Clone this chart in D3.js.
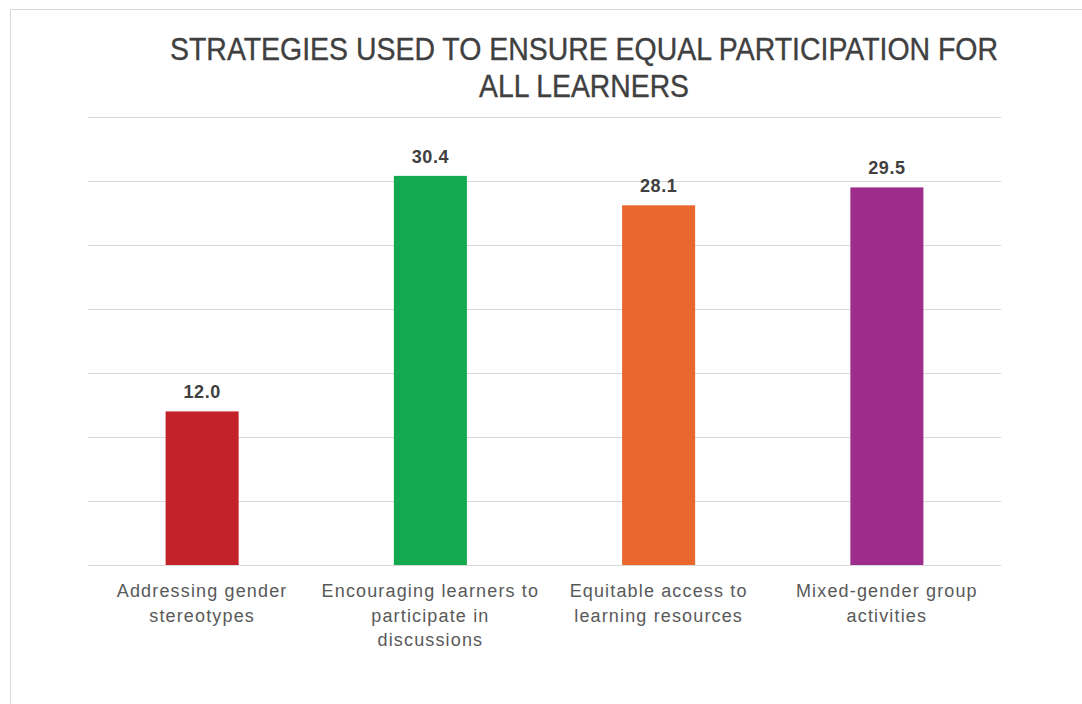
<!DOCTYPE html>
<html>
<head>
<meta charset="utf-8">
<script src="https://cdn.jsdelivr.net/npm/d3@7/dist/d3.min.js"></script>
<style>
  html, body { margin: 0; padding: 0; background: #fff; }
  svg { display: block; }
</style>
</head>
<body>
<svg id="chart" width="1082" height="704"></svg>
<script>
// Chart data
const categories = [
  "Addressing gender stereotypes",
  "Encouraging learners to participate in discussions",
  "Equitable access to learning resources",
  "Mixed-gender group activities"
];
const categoryLines = [
  ["Addressing gender", "stereotypes"],
  ["Encouraging learners to", "participate in", "discussions"],
  ["Equitable access to", "learning resources"],
  ["Mixed-gender group", "activities"]
];
const values = [12.0, 30.4, 28.1, 29.5];
const barColors = ["#C3222A", "#13A94F", "#EA672E", "#9D2C8B"];
const yTicks = [0, 5, 10, 15, 20, 25, 30, 35];
const titleLines = ["STRATEGIES USED TO ENSURE EQUAL PARTICIPATION FOR", "ALL LEARNERS"];

const svg = d3.select("#chart");

// Outer chart frame
svg.append("rect")
  .attr("x", 10.5).attr("y", 9.5)
  .attr("width", 1100).attr("height", 720)
  .attr("fill", "#fff")
  .attr("stroke", "#d9d9d9").attr("stroke-width", 1);

const plot = { left: 88, right: 1001, top: 117, bottom: 565 };

const x = d3.scaleBand()
  .domain(categories)
  .range([plot.left, plot.right])
  .paddingInner(0.68)
  .paddingOuter(0.34);

const y = d3.scaleLinear()
  .domain([0, 35])
  .range([plot.bottom, plot.top]);

// Horizontal gridlines
svg.append("g")
  .selectAll("line")
  .data(yTicks)
  .join("line")
  .attr("x1", plot.left).attr("x2", plot.right)
  .attr("y1", d => Math.round(y(d)) + 0.5)
  .attr("y2", d => Math.round(y(d)) + 0.5)
  .attr("stroke", "#d9d9d9")
  .attr("stroke-width", 1.2);

// Title (condensed caps)
svg.append("g")
  .selectAll("text")
  .data(titleLines)
  .join("text")
  .attr("x", 584)
  .attr("y", (d, i) => 60 + i * 36.5)
  .attr("text-anchor", "middle")
  .attr("font-family", "'Liberation Sans', Arial, sans-serif")
  .attr("font-size", 30.5)
  .attr("fill", "#404040")
  .attr("stroke", "#404040")
  .attr("stroke-width", 0.35)
  .attr("textLength", (d, i) => i === 0 ? 828 : 210)
  .attr("lengthAdjust", "spacingAndGlyphs")
  .text(d => d);

// Bars
svg.append("g")
  .selectAll("rect")
  .data(values)
  .join("rect")
  .attr("x", (d, i) => x(categories[i]))
  .attr("y", d => y(d))
  .attr("width", x.bandwidth())
  .attr("height", d => y(0) - y(d))
  .attr("fill", (d, i) => barColors[i]);

// Value labels
svg.append("g")
  .selectAll("text")
  .data(values)
  .join("text")
  .attr("x", (d, i) => x(categories[i]) + x.bandwidth() / 2)
  .attr("y", d => y(d) - 13)
  .attr("text-anchor", "middle")
  .attr("font-family", "'Liberation Sans', Arial, sans-serif")
  .attr("font-size", 18)
  .attr("font-weight", "bold")
  .attr("letter-spacing", 0.6)
  .attr("fill", "#404040")
  .text(d => d.toFixed(1));

// Category labels
const catG = svg.append("g")
  .selectAll("text")
  .data(categoryLines)
  .join("text")
  .attr("text-anchor", "middle")
  .attr("font-family", "'Liberation Sans', Arial, sans-serif")
  .attr("font-size", 18)
  .attr("letter-spacing", 1.15)
  .attr("fill", "#595959");

catG.selectAll("tspan")
  .data((lines, i) => lines.map(l => ({ l, i })))
  .join("tspan")
  .attr("x", d => x(categories[d.i]) + x.bandwidth() / 2)
  .attr("y", (d, j) => 597 + j * 24.5)
  .text(d => d.l);
</script>
</body>
</html>
